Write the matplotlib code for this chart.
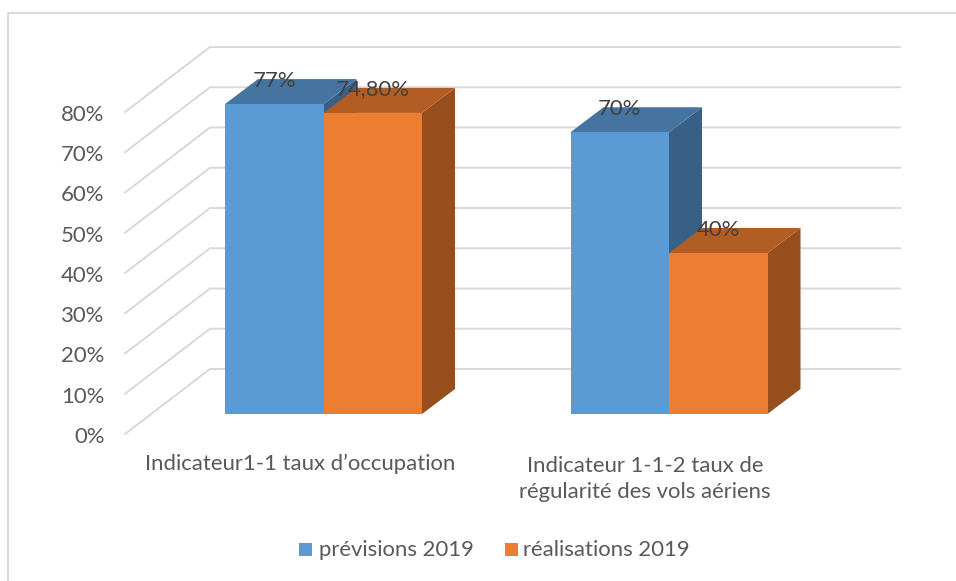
import matplotlib
matplotlib.use("Agg")
import matplotlib.pyplot as plt
from matplotlib.patches import Polygon, Rectangle

categories = ["Indicateur1-1 taux d’occupation", "Indicateur 1-1-2 taux de\nrégularité des vols aériens"]
series_names = ["prévisions 2019", "réalisations 2019"]
previsions = [77, 70]
realisations = [74.8, 40]
label_prev = ["77%", "70%"]
label_real = ["74,80%", "40%"]
ticks = [0, 10, 20, 30, 40, 50, 60, 70, 80]

W, H = 956, 581
PX_X = 345.5      # pixels per category step
PX_Y = 4.025      # pixels per percent
X0_PX, Y0_PX = 323.5, 414
BAR_W = 98.5 / PX_X
DX_BAR, DY_BAR = 33 / PX_X, 25 / PX_Y
DY_F = -20 / PX_Y     # front of floor relative to bars
DY_B = 45 / PX_Y      # back wall relative to bars
FS = 15.9

BLUE = ["#5B9BD5", "#44749F", "#386087"]
ORANGE = ["#ED7D31", "#B25D24", "#974E1C"]
GRID = "#D9D9D9"
TXT = "#595959"

plt.rcParams["font.family"] = ["Lato", "DejaVu Sans"]
fig = plt.figure(figsize=(W / 100, H / 100), dpi=100, facecolor="white")
ax = fig.add_axes([0, 0, 1, 1])
ax.set_xlim(-X0_PX / PX_X, (W - X0_PX) / PX_X)
ax.set_ylim(-(H - Y0_PX) / PX_Y, Y0_PX / PX_Y)
ax.axis("off")


def px(xp):
    return (xp - X0_PX) / PX_X


def py(yp):
    return (Y0_PX - yp) / PX_Y


# outer chart frame
ax.plot([px(8), px(8), px(956)], [py(581), py(13), py(13)], color="#D9D9D9", lw=1.4)

# walls and value axis labels
x_front = px(125)
x_back = px(210)
x_right = px(900)
for t in ticks:
    y_f = t + DY_F
    y_b = t + DY_B
    ax.plot([x_front, x_back, x_right], [y_f, y_b, y_b], color=GRID, lw=1.4, zorder=1)
    ax.text(px(104.5), y_f - 0.7, f"{t}%", ha="right", va="center", fontsize=FS, color=TXT, zorder=5)


def bar(x_left, value, cols):
    x_r = x_left + BAR_W
    ax.add_patch(Polygon([(x_r, 0), (x_r + DX_BAR, DY_BAR),
                          (x_r + DX_BAR, value + DY_BAR), (x_r, value)],
                         fc=cols[2], ec="none", zorder=3))
    ax.add_patch(Polygon([(x_left, value), (x_r, value),
                          (x_r + DX_BAR, value + DY_BAR), (x_left + DX_BAR, value + DY_BAR)],
                         fc=cols[1], ec="none", zorder=3))
    ax.add_patch(Rectangle((x_left, 0), BAR_W, value, fc=cols[0], ec="none", zorder=4))


for i in range(len(categories)):
    bar(i - BAR_W, previsions[i], BLUE)
    bar(i, realisations[i], ORANGE)
    ax.text(i - BAR_W / 2, previsions[i] + DY_BAR - 0.4, label_prev[i],
            ha="center", va="center", fontsize=FS, color="#404040", zorder=6)
    ax.text(i + BAR_W / 2, realisations[i] + DY_BAR - 0.4, label_real[i],
            ha="center", va="center", fontsize=FS, color="#404040", zorder=6)

# category labels
ax.text(px(300), py(464), categories[0], ha="center", va="center", fontsize=FS, color=TXT)
ax.text(px(645), py(479), categories[1], ha="center", va="center", fontsize=FS, color=TXT,
        linespacing=1.4)

# legend
for xp, xt, name, col in zip([299, 505], [319, 523], series_names, [BLUE[0], ORANGE[0]]):
    ax.add_patch(Rectangle((px(xp), py(556)), 13 / PX_X, 13 / PX_Y, fc=col, ec="none"))
    ax.text(px(xt), py(550), name, ha="left", va="center", fontsize=FS, color=TXT)

fig.savefig("out.png", dpi=100, facecolor="white")
